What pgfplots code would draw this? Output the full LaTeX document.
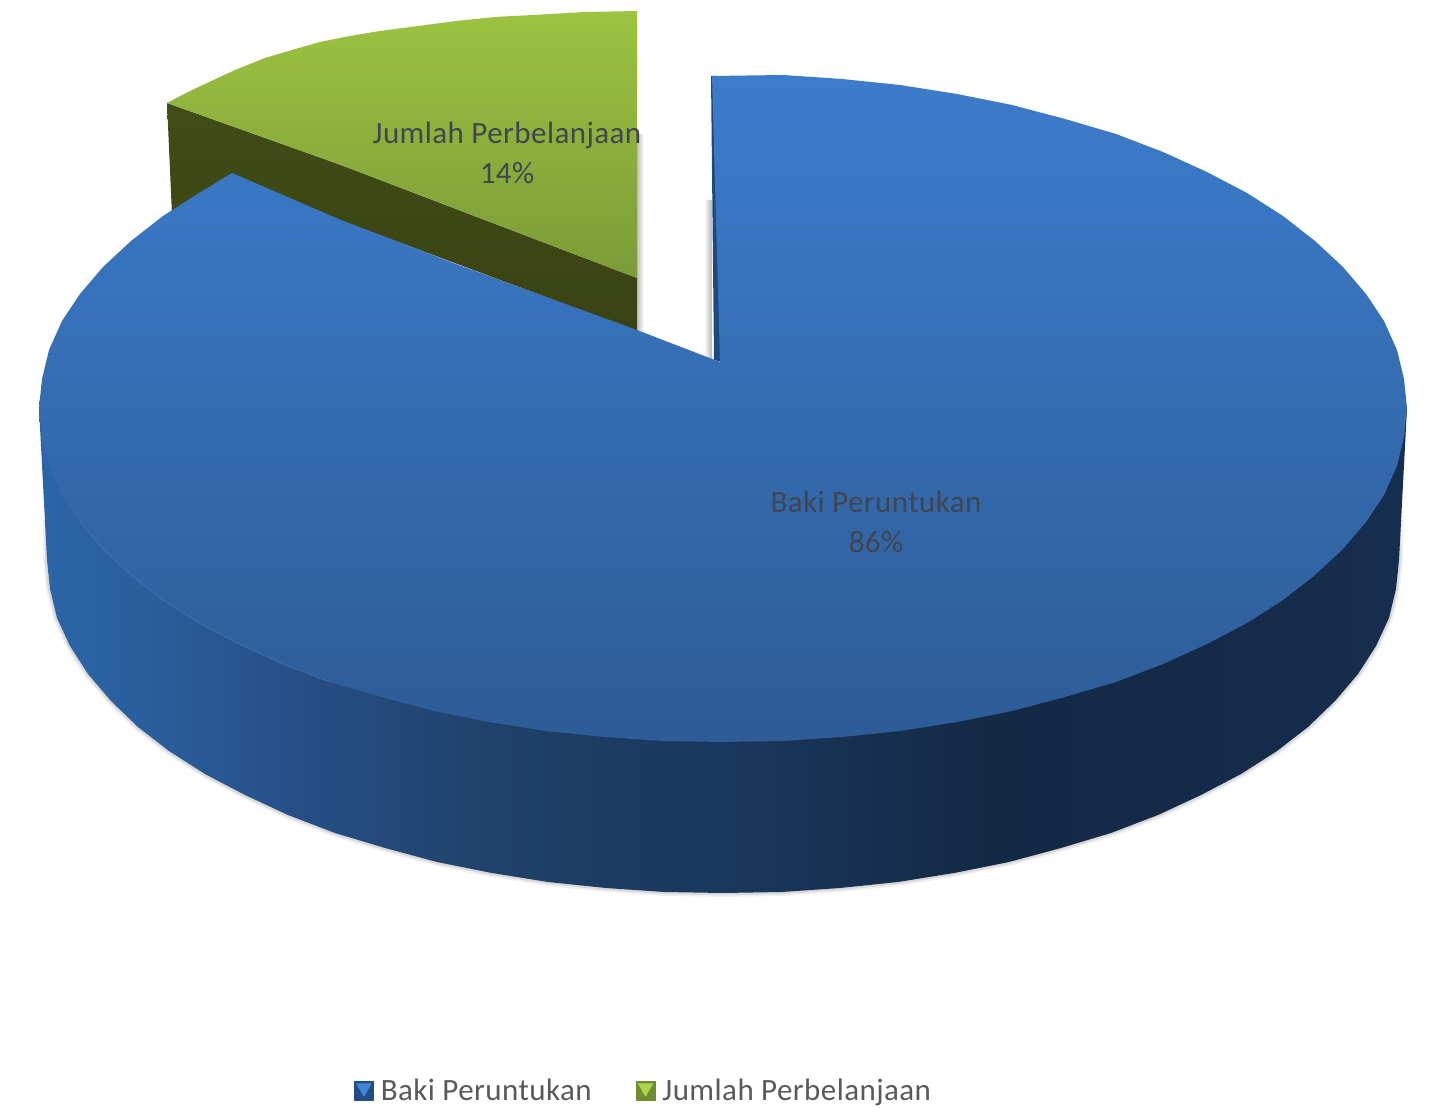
\documentclass[border=0pt]{standalone}
\usepackage{fontspec}
\setmainfont[LetterSpace=1.4]{Carlito}
\usepackage{pgfplots}
\usepackage{pgfplotstable}
\pgfplotsset{compat=1.18}

\definecolor{labeltxt}{HTML}{41454F}
\definecolor{legendtxt}{HTML}{595959}
\definecolor{wallA}{HTML}{2B65A8}
\definecolor{wallB}{HTML}{2A5E9C}
\definecolor{wallC}{HTML}{264F85}
\definecolor{wallD}{HTML}{1F4069}
\definecolor{wallE}{HTML}{1A375D}
\definecolor{wallF}{HTML}{132944}
\definecolor{wallG}{HTML}{152B4A}
\definecolor{wallH}{HTML}{162E4E}
\definecolor{blueHi}{HTML}{3C7CCC}
\definecolor{blueLo}{HTML}{2D5C96}
\definecolor{blueCut}{HTML}{1B4982}
\definecolor{blueRim}{HTML}{427AC0}
\definecolor{greenHi}{HTML}{9CC341}
\definecolor{greenLo}{HTML}{7C9B37}
\definecolor{oliveHi}{HTML}{404D16}
\definecolor{oliveLo}{HTML}{3A4212}
\definecolor{keyBlueA}{HTML}{214E89}
\definecolor{keyBlueB}{HTML}{4486D4}
\definecolor{keyGreenA}{HTML}{708D30}
\definecolor{keyGreenB}{HTML}{ACD44C}

% side wall of the big slice, dark towards the right
\pgfdeclarehorizontalshading{sidewall}{100bp}{
  color(0bp)=(wallA);
  color(25bp)=(wallA);
  color(29bp)=(wallB);
  color(34.5bp)=(wallC);
  color(42bp)=(wallD);
  color(50bp)=(wallE);
  color(60bp)=(wallF);
  color(71bp)=(wallG);
  color(75bp)=(wallH);
  color(100bp)=(wallH)}

% outlines in picture pixels, y downwards
\pgfplotstableread{
x y
712 76
783 75
842 79
900 85
957 94
1012 105
1065 119
1116 134
1163 152
1207 172
1247 193
1283 216
1315 241
1343 267
1366 294
1384 321
1397 350
1404 379
1407 408
1404 437
1397 466
1384 495
1366 522
1343 549
1315 575
1283 600
1247 623
1207 644
1163 664
1116 682
1065 697
1012 711
957 722
900 731
842 737
783 741
723 742
663 741
604 737
546 731
489 722
434 711
381 697
330 682
283 664
239 644
199 623
163 600
131 575
103 549
80 522
62 495
49 466
42 437
39 408
42 379
49 350
62 321
80 294
103 267
131 241
163 216
199 193
232 173
341 220
456 264
637 330
720 362
}\bluetop

\pgfplotstableread{
x y
1407 408
1399 560
1396 589
1389 618
1376 646
1358 674
1335 701
1308 727
1277 751
1241 774
1201 795
1158 815
1111 833
1061 848
1009 862
954 873
898 882
840 888
782 892
723 893
664 892
606 888
548 882
492 873
437 862
385 848
335 833
288 815
245 795
205 774
169 751
138 727
111 701
88 674
70 646
57 618
50 589
47 560
39 408
}\blueside

\pgfplotstableread{
x y
1399 520
1399 560
1396 589
1389 618
1376 646
1358 674
1335 701
1308 727
1277 751
1241 774
1201 795
1158 815
1111 833
1061 848
1009 862
954 873
898 882
840 888
782 892
723 893
664 892
606 888
548 882
492 873
437 862
385 848
335 833
288 815
245 795
205 774
169 751
138 727
111 701
88 674
70 646
57 618
50 589
47 560
47 520
}\shadowarc

\pgfplotstableread{
x y
330 682
283 664
239 644
199 623
163 600
131 575
103 549
80 522
}\rimleft

\pgfplotstableread{
x y
167 103
186 93
207 83
235 70
265 58
292 50
320 42
350 36
380 31
418 26
456 21
495 17
533 15
585 12
637 11
637 278
456 209
341 165
}\greentop

\pgfplotstableread{
x y
167 103
341 165
456 209
637 278
637 331
232 180
172 215
}\greenside

\begin{document}
\begin{tikzpicture}
\begin{axis}[
    scale only axis,
    width=714.5pt,
    height=553pt,
    xmin=0, xmax=1429,
    ymin=0, ymax=1106,
    y dir=reverse,
    hide axis,
    clip=false,
    legend columns=2,
    legend cell align=left,
    legend style={
        at={(axis cs:644.5,1091)},
        anchor=center,
        draw=none,
        fill=none,
        font=\fontsize{15.5}{18}\selectfont\color{legendtxt},
        /tikz/every even column/.append style={column sep=20pt},
        inner sep=0pt,
    },
]

% page corners
\addplot[forget plot, draw=none] coordinates {(0,0)(1429,1106)};

% shadows first
\addplot[forget plot, gray, opacity=0.12, line width=4pt] table {\shadowarc};
\addplot[forget plot, gray, opacity=0.2, line width=2.2pt] table {\shadowarc};
\addplot[forget plot, draw=none, left color=black!25, right color=white] coordinates {(637,135)(644,135)(644,331)(637,331)};
\addplot[forget plot, draw=none, left color=white, right color=black!30] coordinates {(704,200)(712,200)(712,360)(704,356)};

% green slice
\addplot[forget plot, draw=none, top color=oliveHi, bottom color=oliveLo] table {\greenside};
\addplot[forget plot, draw=none, top color=greenHi, bottom color=greenLo] table {\greentop};

% blue slice
\addplot[forget plot, draw=none, shading=sidewall] table {\blueside};
\addplot[forget plot, draw=none, fill=blueCut] coordinates {(711,76)(716,76)(722,362)(714,360)};
\addplot[forget plot, draw=none, top color=blueHi, bottom color=blueLo] table {\bluetop};
\addplot[forget plot, blueRim, opacity=0.45, line width=0.7pt] table {\rimleft};

% legend
\addlegendimage{legend image code/.code={
    \fill[keyBlueA] (0pt,-4.7pt) rectangle (9.5pt,4.8pt);
    \fill[keyBlueB] (1.2pt,3.6pt) -- (8.3pt,3.6pt) -- (4.75pt,-2.5pt) -- cycle;
    \path (11pt,0pt);
}}
\addlegendentry{Baki Peruntukan}
\addlegendimage{legend image code/.code={
    \fill[keyGreenA] (0pt,-4.7pt) rectangle (9.5pt,4.8pt);
    \fill[keyGreenB] (1.2pt,3.6pt) -- (8.3pt,3.6pt) -- (4.75pt,-2.5pt) -- cycle;
    \path (11pt,0pt);
}}
\addlegendentry{Jumlah Perbelanjaan}

% data labels
\node[text=labeltxt, font=\fontsize{15.5}{20}\selectfont, align=center, anchor=center] at (axis cs:507,153) {Jumlah Perbelanjaan\\14\%};
\node[text=labeltxt, font=\fontsize{15.5}{20}\selectfont, align=center, anchor=center] at (axis cs:876,522) {Baki Peruntukan\\86\%};

\end{axis}
\end{tikzpicture}
\end{document}
